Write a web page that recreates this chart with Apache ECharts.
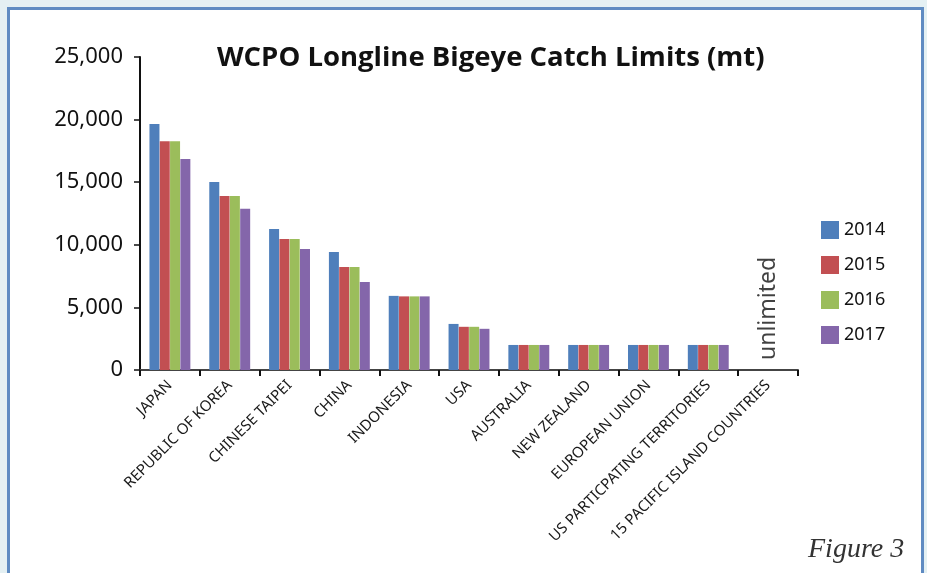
<!DOCTYPE html>
<html lang="en" style="height: 100%">
<head>
  <meta charset="utf-8">
</head>
<body style="height: 100%; margin: 0; background: #e4f0f3">
  <div id="container" style="width: 927px; height: 573px"></div>

  <script type="text/javascript" src="https://cdn.jsdelivr.net/npm/echarts@6/dist/echarts.min.js"></script>

  <script type="text/javascript">
    var categories = ['JAPAN', 'REPUBLIC OF KOREA', 'CHINESE TAIPEI', 'CHINA', 'INDONESIA', 'USA',
      'AUSTRALIA', 'NEW ZEALAND', 'EUROPEAN UNION', 'US PARTICPATING TERRITORIES', '15 PACIFIC ISLAND COUNTRIES'];
    var years = ['2014', '2015', '2016', '2017'];
    var limits2014 = [19650, 15010, 11270, 9420, 5920, 3680, 2000, 2000, 2000, 2000, null];
    var limits2015 = [18280, 13900, 10470, 8230, 5880, 3450, 2000, 2000, 2000, 2000, null];
    var limits2016 = [18280, 13900, 10470, 8230, 5880, 3450, 2000, 2000, 2000, 2000, null];
    var limits2017 = [16850, 12870, 9660, 7030, 5880, 3290, 2000, 2000, 2000, 2000, null];
    var yTicks = [0, 5000, 10000, 15000, 20000, 25000];
    var unlimitedNote = ['15 PACIFIC ISLAND COUNTRIES', 0];

    var colors = ['#4f7fbb', '#c24f52', '#9bbd5b', '#8466aa'];

    var dom = document.getElementById('container');
    var myChart = echarts.init(dom, null, { renderer: 'canvas' });

    var allLimits = [limits2014, limits2015, limits2016, limits2017];
    var barSeries = years.map(function (y, i) {
      return {
        name: y,
        type: 'bar',
        data: allLimits[i],
        barWidth: 10,
        barGap: '3%',
        itemStyle: { color: colors[i] }
      };
    });

    var option = {
      backgroundColor: '#e4f0f3',
      animation: false,
      graphic: [
        {
          type: 'rect',
          shape: { x: 8.5, y: 8.5, width: 914, height: 600 },
          style: { fill: '#ffffff', stroke: '#5f8bc2', lineWidth: 3 },
          z: -10
        },
        {
          type: 'text',
          left: 808,
          top: 536,
          style: {
            text: 'Figure 3',
            font: 'italic 28px "Liberation Serif"',
            fill: '#333333'
          }
        }
      ],
      title: {
        text: 'WCPO Longline Bigeye Catch Limits (mt)',
        left: 212,
        top: 39,
        textStyle: {
          fontFamily: 'Open Sans',
          fontWeight: 'bold',
          fontSize: 27.5,
          color: '#111111'
        }
      },
      legend: {
        orient: 'vertical',
        left: 816,
        top: 216,
        itemWidth: 18,
        itemHeight: 18,
        itemGap: 17,
        itemTextGap: 4,
        icon: 'rect',
        data: years,
        textStyle: { fontFamily: 'Noto Sans', fontSize: 18, color: '#111111' }
      },
      grid: {
        left: 140,
        right: 129,
        top: 57,
        bottom: 203
      },
      xAxis: {
        type: 'category',
        data: categories,
        axisLine: { lineStyle: { color: '#444444', width: 2 } },
        axisTick: { show: true, length: 6, lineStyle: { color: '#111111', width: 2 } },
        axisLabel: {
          rotate: 45,
          interval: 0,
          margin: 13,
          fontFamily: 'Noto Sans',
          fontSize: 15,
          color: '#1a1a1a'
        }
      },
      yAxis: {
        type: 'value',
        min: yTicks[0],
        max: yTicks[yTicks.length - 1],
        interval: 5000,
        axisLine: { show: true, lineStyle: { color: '#111111', width: 2 } },
        axisTick: { show: true, length: 6, lineStyle: { color: '#111111', width: 1.5 } },
        splitLine: { show: false },
        axisLabel: {
          margin: 17,
          fontFamily: 'Noto Sans',
          fontSize: 22,
          color: '#111111',
          formatter: function (v) { return v.toLocaleString('en-US'); }
        }
      },
      series: barSeries.concat([
        {
          name: 'note',
          type: 'scatter',
          data: [unlimitedNote],
          symbolSize: 0,
          silent: true,
          label: {
            show: true,
            formatter: 'unlimited',
            position: 'top',
            distance: 15,
            rotate: 90,
            align: 'left',
            verticalAlign: 'middle',
            offset: [-5, 0],
            fontFamily: 'Noto Sans',
            fontSize: 23,
            color: '#111111'
          }
        }
      ])
    };

    myChart.setOption(option);
    window.addEventListener('resize', myChart.resize);
  </script>
</body>
</html>
